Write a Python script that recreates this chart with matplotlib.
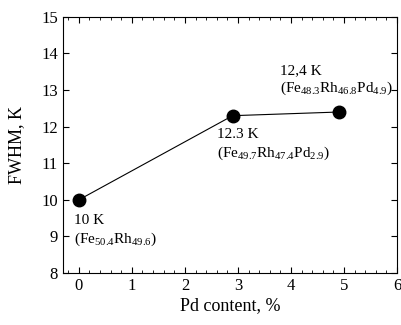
import matplotlib.pyplot as plt
from matplotlib.ticker import MultipleLocator

plt.rcParams['font.family'] = ['Liberation Serif', 'DejaVu Serif']
plt.rcParams['mathtext.fontset'] = 'custom'
plt.rcParams['mathtext.rm'] = 'Liberation Serif'

pd_content = [0, 2.9, 4.9]
fwhm = [10, 12.3, 12.4]
labels = [
    '10 K\n(Fe$_{50.4}$Rh$_{49.6}$)',
    '12.3 K\n(Fe$_{49.7}$Rh$_{47.4}$Pd$_{2.9}$)',
    '12,4 K\n(Fe$_{48.3}$Rh$_{46.8}$Pd$_{4.9}$)',
]

fig = plt.figure(figsize=(4.01, 3.25), dpi=100)
ax = fig.add_axes([0.157, 0.16, 0.833, 0.788])
ax.plot(pd_content, fwhm, color='black', lw=0.8, marker='o', ms=9)

# annotations under/over points
ax.text(-0.1, 9.6, labels[0], fontsize=11, va='top', ha='left', linespacing=1.25)
ax.text(2.6, 11.95, labels[1], fontsize=11, va='top', ha='left', linespacing=1.25)
ax.text(3.8, 13.72, labels[2], fontsize=11, va='top', ha='left', linespacing=1.25)

ax.set_xlim(-0.3, 6)
ax.set_ylim(8, 15)
ax.xaxis.set_major_locator(MultipleLocator(1))
ax.xaxis.set_minor_locator(MultipleLocator(0.2))
ax.yaxis.set_major_locator(MultipleLocator(1))
ax.tick_params(which='both', direction='in', top=True, right=True, labelsize=12)
ax.tick_params(which='major', length=4)
ax.tick_params(which='minor', length=2.5)
ax.set_xlabel('Pd content, %', fontsize=13, labelpad=2)
ax.set_ylabel('FWHM, K', fontsize=13, labelpad=12)

fig.savefig('out.png', dpi=100)
